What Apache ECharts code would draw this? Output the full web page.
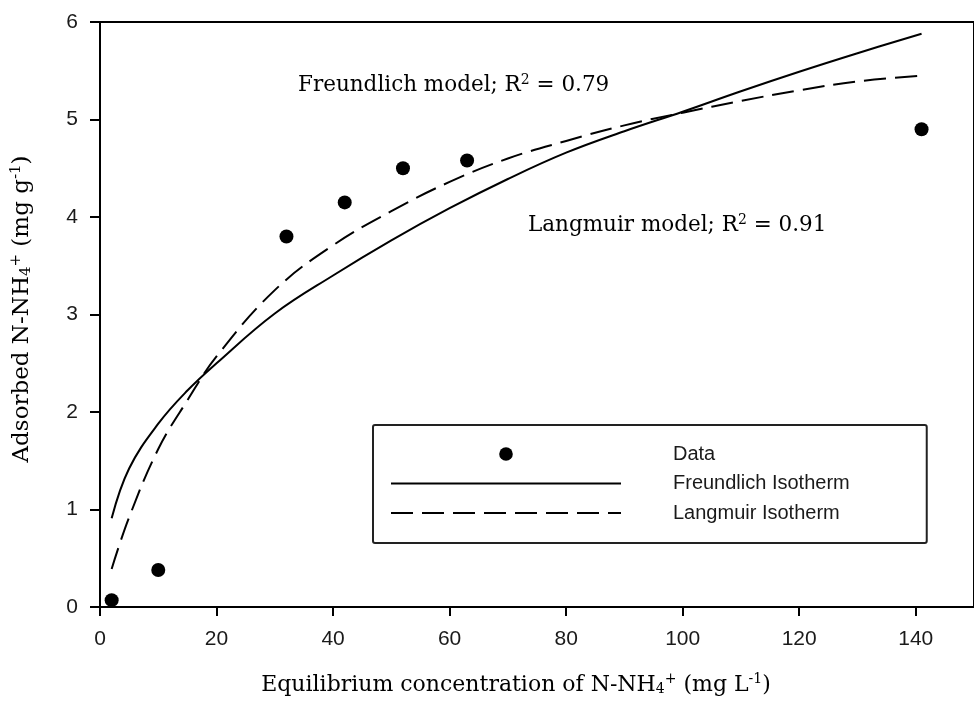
<!DOCTYPE html>
<html>
<head>
<meta charset="utf-8">
<script src="https://cdn.jsdelivr.net/npm/echarts@6/dist/echarts.min.js"></script>
<style>
  html, body { margin: 0; padding: 0; background: #fff; }
  #chart { width: 974px; height: 704px; }
</style>
</head>
<body>
<div id="chart"></div>
<script>
// Measured adsorption points: equilibrium concentration (mg/L) vs adsorbed amount (mg/g)
var dataConc = [2, 10, 32, 42, 52, 63, 141];
var dataAdsorbed = [0.07, 0.38, 3.8, 4.15, 4.5, 4.58, 4.9];

// Fitted isotherm curves, sampled along the concentration range
var curveConc = [2, 5, 10, 15, 20, 30, 40, 50, 60, 70, 80, 90, 100, 110, 120, 130, 141];
var freundlichVals = [0.91, 1.42, 1.88, 2.22, 2.50, 3.01, 3.40, 3.76, 4.09, 4.39, 4.66, 4.88, 5.08, 5.29, 5.49, 5.68, 5.88];
var langmuirVals = [0.39, 0.92, 1.62, 2.12, 2.57, 3.25, 3.71, 4.06, 4.36, 4.60, 4.78, 4.94, 5.07, 5.19, 5.30, 5.39, 5.45];

// Axis tick labels
var xTicks = [0, 20, 40, 60, 80, 100, 120, 140];
var yTicks = [0, 1, 2, 3, 4, 5, 6];

function pairs(xs, ys) {
  return xs.map(function (x, i) { return [x, ys[i]]; });
}

var serif = '"DejaVu Serif", "Liberation Serif", serif';
var sans = '"Liberation Sans", Arial, sans-serif';
var ink = '#1a1a1a';

var richSerif = function (size) {
  return {
    b: { fontFamily: serif, fontSize: size, color: ink },
    sup: { fontFamily: serif, fontSize: Math.round(size * 0.64), color: ink, padding: [0, 0, Math.round(size * 0.5), 0] },
    sub: { fontFamily: serif, fontSize: Math.round(size * 0.64), color: ink, padding: [Math.round(size * 0.35), 0, 0, 0] }
  };
};

var chart = echarts.init(document.getElementById('chart'), null, { renderer: 'canvas' });

chart.setOption({
  animation: false,
  backgroundColor: '#fff',
  grid: {
    left: 100, top: 22, width: 885, height: 585,
    show: true, borderColor: '#000', borderWidth: 2
  },
  xAxis: {
    type: 'value', min: 0, max: 150,
    axisLine: { lineStyle: { color: '#000', width: 2 } },
    axisTick: { length: 9, lineStyle: { color: '#000', width: 2 }, customValues: xTicks },
    axisLabel: { customValues: xTicks, margin: 22, fontFamily: sans, fontSize: 21, color: ink },
    splitLine: { show: false }
  },
  yAxis: {
    type: 'value', min: 0, max: 6, interval: 1,
    axisLine: { lineStyle: { color: '#000', width: 2 } },
    axisTick: { length: 10, lineStyle: { color: '#000', width: 2 }, customValues: yTicks },
    axisLabel: { customValues: yTicks, margin: 22, fontFamily: sans, fontSize: 21, color: ink },
    splitLine: { show: false }
  },
  legend: {
    orient: 'vertical',
    left: 373, top: 425,
    padding: [19, 77, 20, 17],
    itemWidth: 230, itemHeight: 17, itemGap: 9.5,
    borderColor: '#222', borderWidth: 2, borderRadius: 2,
    textStyle: { fontFamily: sans, fontSize: 20, color: ink, padding: [0, 0, 0, 47] },
    data: [
      { name: 'Data' },
      { name: 'Freundlich Isotherm', itemStyle: { opacity: 0 } },
      { name: 'Langmuir Isotherm', itemStyle: { opacity: 0 } }
    ]
  },
  graphic: [
    {
      type: 'text', left: 298, top: 73,
      style: {
        text: '{b|Freundlich model; R}{sup|2}{b| = 0.79}',
        rich: richSerif(21.5)
      }
    },
    {
      type: 'text', left: 528, top: 213,
      style: {
        text: '{b|Langmuir model; R}{sup|2}{b| = 0.91}',
        rich: richSerif(21.5)
      }
    },
    {
      type: 'text', x: 516, y: 685,
      style: {
        text: '{b|Equilibrium concentration of N-NH}{sub|4}{sup|+}{b| (mg L}{sup|-1}{b|)}',
        rich: richSerif(22),
        align: 'center', verticalAlign: 'middle'
      }
    },
    {
      type: 'text', x: 22, y: 309, rotation: Math.PI / 2,
      style: {
        text: '{b|Adsorbed N-NH}{sub|4}{sup|+}{b| (mg g}{sup|-1}{b|)}',
        rich: richSerif(23),
        align: 'center', verticalAlign: 'middle'
      }
    }
  ],
  series: [
    {
      name: 'Data', type: 'line',
      data: pairs(dataConc, dataAdsorbed),
      symbol: 'circle', symbolSize: 14,
      itemStyle: { color: '#000' },
      lineStyle: { width: 0, opacity: 0 },
      z: 5
    },
    {
      name: 'Freundlich Isotherm', type: 'line',
      data: pairs(curveConc, freundlichVals),
      smooth: 0.4, symbol: 'none',
      itemStyle: { color: '#000' },
      lineStyle: { color: '#000', width: 2 }
    },
    {
      name: 'Langmuir Isotherm', type: 'line',
      data: pairs(curveConc, langmuirVals),
      smooth: 0.4, symbol: 'none',
      itemStyle: { color: '#000' },
      lineStyle: { color: '#000', width: 2, type: [22, 9] }
    }
  ]
});
</script>
</body>
</html>
